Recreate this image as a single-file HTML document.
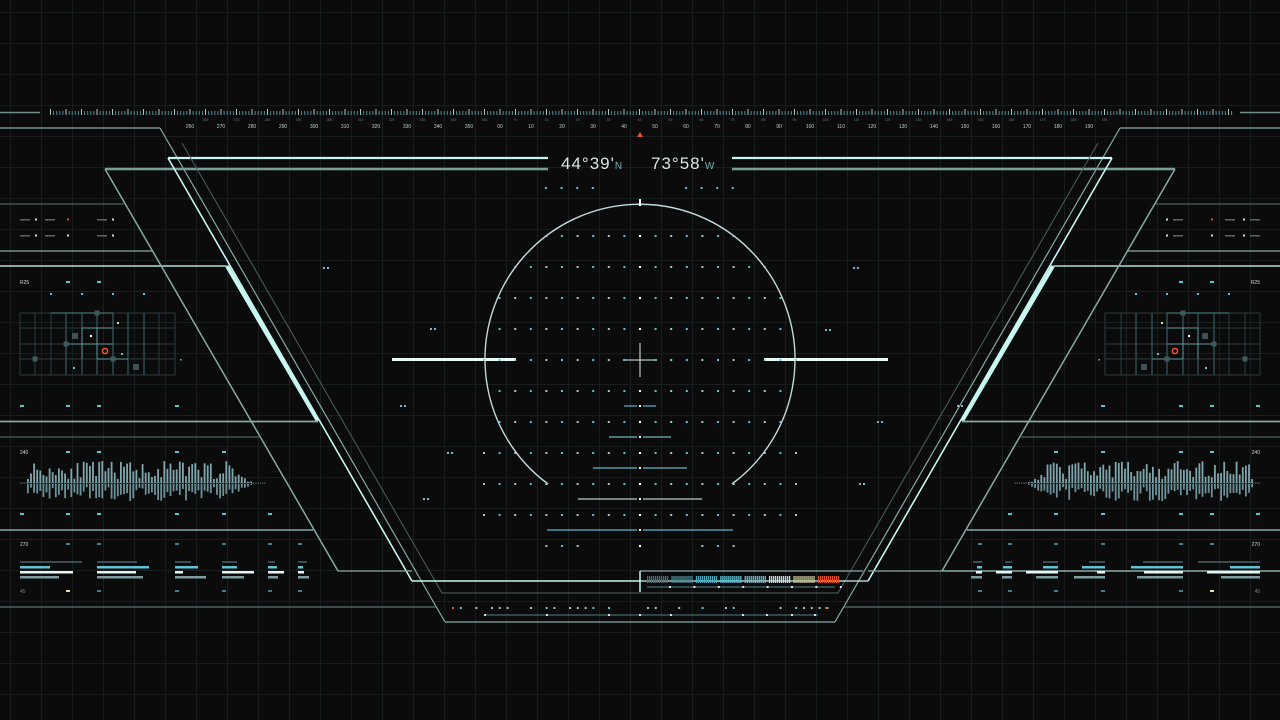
<!DOCTYPE html>
<html><head><meta charset="utf-8"><style>
html,body{margin:0;padding:0;background:#0b0b0b;width:1280px;height:720px;overflow:hidden}
svg{display:block}
text{font-family:"Liberation Sans",sans-serif}
</style></head><body>
<svg id="s" width="1280" height="720" viewBox="0 0 1280 720" xmlns="http://www.w3.org/2000/svg">
<rect width="1280" height="720" fill="#0b0b0b"/>
<g id="grid"></g>
<g id="main" fill="none" stroke-linecap="butt"></g>
<g id="dyn"></g>
<text x="561" y="169" font-size="17" fill="#d8e6e6" letter-spacing="1">44°39'<tspan font-size="10" fill="#7fb3bb">N</tspan></text>
<text x="651" y="169" font-size="17" fill="#d8e6e6" letter-spacing="1">73°58'<tspan font-size="10" fill="#7fb3bb">W</tspan></text>
</svg>
<script>
const NS="http://www.w3.org/2000/svg";
const grid=document.getElementById('grid'),main=document.getElementById('main'),dyn=document.getElementById('dyn');
function el(p,tag,a){const e=document.createElementNS(NS,tag);for(const k in a)e.setAttribute(k,a[k]);p.appendChild(e);return e;}
function ln(p,x1,y1,x2,y2,c,w){return el(p,'line',{x1,y1,x2,y2,stroke:c,'stroke-width':w||1});}
function rc(p,x,y,w,h,c){return el(p,'rect',{x,y,width:w,height:h,fill:c});}
function tx(p,x,y,s,c,sz,anc){const t=el(p,'text',{x,y,fill:c,'font-size':sz||5,'text-anchor':anc||'start'});t.textContent=s;return t;}
let seed=7;function rnd(){seed=(seed*16807)%2147483647;return seed/2147483647;}
for(let x=10.5;x<1280;x+=31)ln(grid,x,0,x,720,'#181d1e',1);
for(let y=12.5;y<720;y+=31)ln(grid,0,y,1280,y,'#181d1e',1);
ln(main,0,112.5,40,112.5,'#6f8f8c',1.5);ln(main,1240,112.5,1280,112.5,'#6f8f8c',1.5);
for(let d=-150;d<=245;d++){const x=500+d*3.1; if(x<50||x>1232)continue;
 const maj=d%5==0; ln(main,x,maj?109:111,x,115,maj?'#a9c6c6':'#4f8d96',1);}
for(let v=-10;v<=19;v++){const x=500+v*31; let lab=((v*10)%360+360)%360; let s=lab==0?'00':String(lab);
 tx(dyn,x,128,s,'#c0cccc',5,'middle');
 tx(dyn,x+15.5,121,String(((v*10+5)%360+360)%360),'#6a7878',3.5,'middle');}
el(dyn,'polygon',{points:'637,137 643,137 640,132',fill:'#e0522c'});
const B='#c8f6f0',M='#87aaa6',D='#4c625f';
function side(m){const X=x=>m?1280-x:x;
 const L=(x1,y1,x2,y2,c,w)=>ln(main,X(x1),y1,X(x2),y2,c,w);
 L(0,128,160,128,M,1.2);L(160,128,445,622,M,1.2);
 L(168,158,548,158,B,2.2);L(105,169,548,169,'#7a9e9b',2.5);
 L(168,158,412,581,B,1.6);L(227,266,318,421,B,4);
 L(105,169,338,571,M,1.5);L(338,571,412,571,M,1.2);
 L(182,143,442,593,D,1);
 L(0,204,124,204,D,1.2);L(0,251,152,251,M,1.2);L(0,266,227,266,M,2);
 L(0,421.5,318,421.5,M,1.8);L(0,437,260,437,D,1.2);L(0,530,313,530,M,1.5);L(0,607,436,607,D,1.5);
}
side(0);side(1);
ln(main,445,622,835,622,M,1.2);
ln(main,412,581,640,581,B,1.6);ln(main,640,581,868,581,B,1.2);
ln(main,442,593,838,593,D,1);
ln(main,640,571,863,571,M,1.2);ln(main,640,571,640,592,B,1.5);
ln(main,942,571,1280,571,M,1.5);
el(main,'path',{d:'M548,484 A155,155 0 1 1 732,484',stroke:'#c2dada','stroke-width':1.4,fill:'none'});
ln(main,640,199,640,206,'#ffffff',2);
ln(main,623,360,657,360,'#e0eeee',1);ln(main,640,343,640,377,'#e0eeee',1);
ln(main,392,359.5,516,359.5,'#e8fbf8',3);ln(main,764,359.5,888,359.5,'#e8fbf8',3);
for(let r=0;r<11;r++){const y=236+r*31;
 for(let c=0;c<=20;c++){const x=484+c*15.6; if(Math.abs(x-640)<1&&(y==360))continue;
  let dx=Math.abs(x-640), dy=y-360;
  if(dx*dx+dy*dy>158*158 && !(y>=453&&y<=546))continue;
  if(y==546&&(dx>95||(dx<60&&dx>1)))continue;
  const ci=dx<1?'#ffffff':(c%2?'#5fc3d3':'#a9c6c6');
  rc(dyn,x-1,y-1,2,2,ci);}}
for(let c=0;c<4;c++){rc(dyn,546+c*15.6-1,187,2,2,'#5fc3d3');rc(dyn,686+c*15.6-1,187,2,2,'#5fc3d3');}
[[406,16,'#5fb5c8'],[437,31,'#6fb3bd'],[468,47,'#5fb5c8'],[499,62,'#b8cccc'],[530,93,'#5fb5c8']].forEach(a=>{
 ln(main,640-a[1],a[0],637,a[0],a[2],1.2);ln(main,643,a[0],640+a[1],a[0],a[2],1.2);rc(dyn,639,a[0]-1,2,2,'#fff');});
[[323,268],[430,329],[400,406],[447,453],[423,499],[853,268],[877,422],[859,484],[957,406],[825,330]].forEach(p=>{rc(dyn,p[0],p[1]-1,2,2,'#9ab');rc(dyn,p[0]+4,p[1]-1,2,2,'#5fc3d3');});
const cols=['#4a6d78','#4f8591','#4fa8bb','#5fbdd0','#6fb8c8','#c8d8dc','#c8c89a','#e0522c'];
for(let g=0;g<8;g++){const x0=647+g*24.4;for(let i=0;i<11;i++)rc(dyn,x0+i*2,576,1.3,7,cols[g]);}
ln(main,647,587,835,587,'#4f7f88',1);
for(let g=0;g<8;g++)rc(dyn,669+g*24.4,586,2,2,'#ddd');
for(let x=452;x<830;x+=7.8){if(rnd()<0.45)continue;rc(dyn,x,607,2,2,rnd()<0.5?'#5fc3d3':'#aabbbb');}
rc(dyn,452,607,2,2,'#e0522c');rc(dyn,825,607,2,2,'#e0522c');
ln(main,485,615,818,615,'#4f7f88',1);
[485,547,609,640,671,743,767,792,815].forEach(x=>rc(dyn,x-1,614,2,2,'#ddd'));
function panel(m){const X=x=>m?1280-x:x; const R=(x,y,w,h,c)=>rc(dyn,m?1280-x-w:x,y,w,h,c);
 const T=(x,y,s,c,sz)=>tx(dyn,X(x),y,s,c,sz||5,m?'end':'start');
 [[20,220],[20,236]].forEach((p,i)=>{[[20,35],[45,67],[97,112]].forEach((q,j)=>{R(q[0],p[1]-1,10,1.5,'#566');R(q[1],p[1]-1.5,2,2,(i==0&&j==1)?'#e0522c':'#cde');});});
 T(20,284,'R25','#cfd8d8',5);
 const gx=[20,35,51,66,82,97,113,128,144,159,175];
 for(let i=0;i<gx.length;i++){ln(main,X(gx[i]),313,X(gx[i]),375,i>2&&i<9?'#3f6b72':'#263c40',1);}
 for(let y of [313,328,344,359,375]){ln(main,X(20),y,X(175),y,'#263c40',1);}
 ln(main,X(51),313,X(113),313,'#4f8a94',1);ln(main,X(82),328,X(113),328,'#5d9aa3',1);ln(main,X(66),344,X(113),344,'#5d9aa3',1);ln(main,X(97),359,X(128),359,'#5d9aa3',1);
 ln(main,X(82),328,X(82),359,'#5d9aa3',1);ln(main,X(97),328,X(97),359,'#5d9aa3',1);
 R(72,333,6,6,'#3c5257');R(133,364,6,6,'#3c5257');
 [[97,313],[66,344],[113,359],[35,359]].forEach(p=>R(p[0]-2.5,p[1]-2.5,5,5,'#41595d'));
 el(dyn,'circle',{cx:X(105),cy:351,r:2.6,fill:'none',stroke:'#ff5a32','stroke-width':1.4});
 R(90,335,2,2,'#fff');R(117,322,2,2,'#e8e0a0');R(121,353,2,2,'#5fc3d3');R(73,367,2,2,'#5fc3d3');R(180,359,1.5,1.5,'#5fc3d3');
 for(const x of [51,82,113,144])R(x-1,293,2,2,'#5fc3d3');
 R(66,281,4,2,'#5fc3d3');R(97,281,4,2,'#5fc3d3');
 [[20,406],[66,406],[97,406],[175,406]].forEach(p=>R(p[0],405,4,2,'#5fc3d3'));
 T(20,454,'240','#cfd8d8',5);
 [[66,452],[97,452],[175,452],[222,452]].forEach(p=>R(p[0],451,4,2,'#5fc3d3'));
 for(let x=20;x<266;x+=2.2)R(x,482.5,1.2,1.2,'#5a7478');
 seed=m?99:11;
 for(let x=27;x<252;x+=3.1){const env=x>230?(252-x)/22:1;const h=(4+rnd()*18)*env;const h2=(3+rnd()*14)*env;
  R(x,483-h,1.8,h,'#7fa6ad');R(x,484,1.8,h2,'#6c9299');}
 [[20,514],[66,514],[97,514],[175,514],[222,514],[268,514]].forEach(p=>R(p[0],513,4,2,'#5fc3d3'));
 T(20,546,'270','#cfd8d8',5);
 [[66,544],[97,544],[175,544],[222,544],[268,544],[298,544]].forEach(p=>R(p[0],543,4,2,'#3f7f8a'));
 const bars=[[20,62,30,53,39],[97,40,52,39,46],[175,16,23,8,31],[222,15,15,32,22],[268,7,9,16,10],[298,9,5,6,11]];
 bars.forEach(b=>{R(b[0],561,b[1],2,'#3a4c50');R(b[0],566,b[2],2.5,'#5fc3d3');R(b[0],571,b[3],2.5,'#e8f4f4');R(b[0],576,b[4],2.5,'#7c9ca0');});
 T(20,593,'45','#6a8a8a',5);
 [[66,591],[97,591],[175,591],[222,591],[268,591],[298,591]].forEach((p,i)=>R(p[0],590,4,2,i==0?'#e8e0a0':'#3f7f8a'));
}
panel(0);panel(1);
</script>
</body></html>
